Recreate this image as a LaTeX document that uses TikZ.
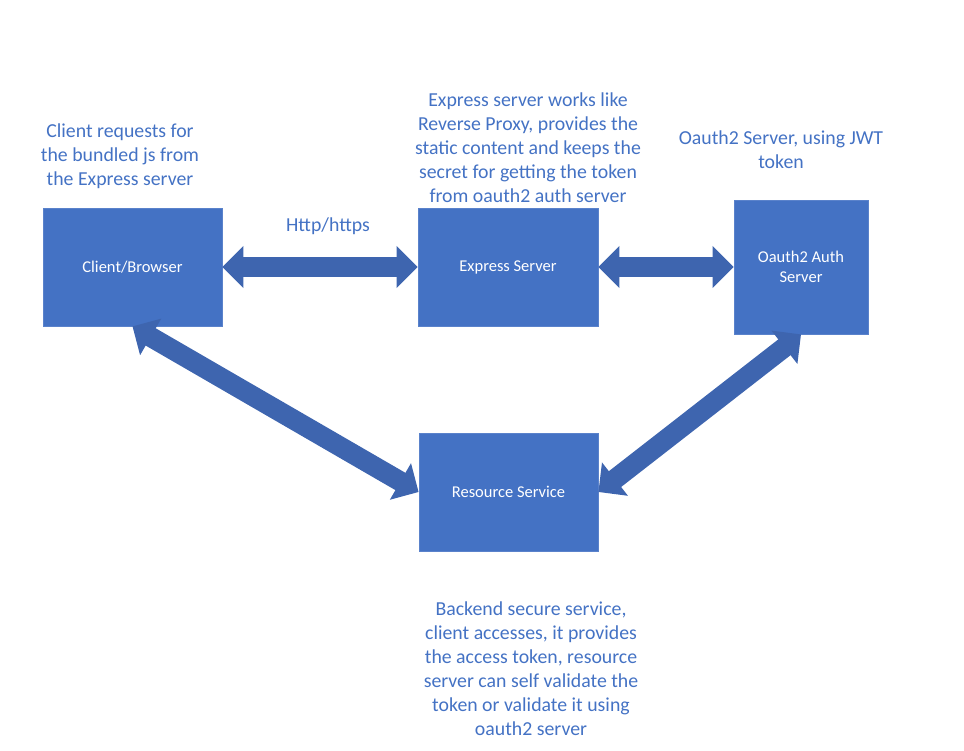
\documentclass[tikz,border=0pt]{standalone}
\usepackage{fontspec}
\setmainfont{Carlito}
\usepackage{xcolor}
\usepackage{tikz}
\usetikzlibrary{positioning,arrows.meta}
\definecolor{boxblue}{HTML}{4472C4}
\definecolor{edgeblue}{HTML}{5A82CB}
\definecolor{arrowblue}{HTML}{3E65AF}
\definecolor{noteblue}{HTML}{4472C4}
\tikzset{
  box/.style={fill=boxblue, draw=edgeblue, line width=0.8pt, text=white, align=center, inner sep=0pt, font=\fontsize{16.5}{20}\selectfont},
  link/.style={draw=arrowblue, line width=20pt, {Triangle[width=41pt,length=21pt]}-{Triangle[width=41pt,length=21pt]}},
  note/.style={text=noteblue, align=center, font=\fontsize{19.8}{24}\selectfont},
}

\begin{document}
\begin{tikzpicture}[x=1pt,y=-1pt]
  \useasboundingbox (0,0) rectangle (964,751);
  % boxes
  \node[box, minimum width=179pt, minimum height=118pt] (client) at (132.5,267) {Client/Browser};
  \node[box, minimum width=180pt, minimum height=118pt] (express) at (508,267) {Express Server};
  \node[box, minimum width=134pt, minimum height=134pt] (oauth) at (801,267) {Oauth2 Auth\\Server};
  \node[box, minimum width=179pt, minimum height=118pt] (resource) at (508.5,492) {Resource Service};
  % links
  \draw[link] (client.east) -- (express.west);
  \draw[link] (express.east) -- (oauth.west);
  \draw[link] (client.south) -- (resource.west);
  \draw[link] (oauth.south) -- (resource.east);
  % notes
  \node[note] (clientnote) at (120,156) {Client requests for\\the bundled js from\\the Express server};
  \node[note] (http) at (328,226) {Http/https};
  \node[note] (expressnote) at (528,148) {Express server works like\\Reverse Proxy, provides the\\static content and keeps the\\secret for getting the token\\from oauth2 auth server};
  \node[note] (oauthnote) at (781,150) {Oauth2 Server, using JWT\\token};
  \node[note] (resourcenote) at (531,669) {Backend secure service,\\client accesses, it provides\\the access token, resource\\server can self validate the\\token or validate it using\\oauth2 server};
\end{tikzpicture}
\end{document}
